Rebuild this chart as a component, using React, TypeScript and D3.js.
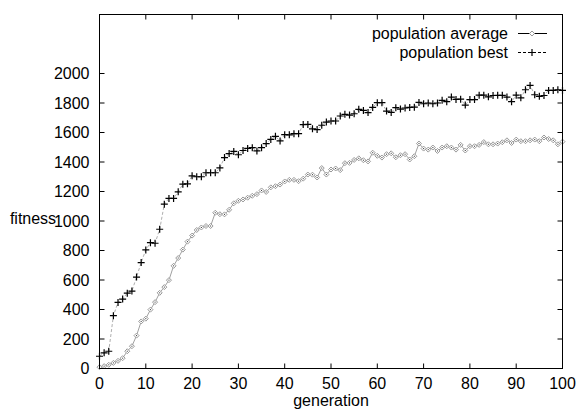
import React from 'react'
import { scaleLinear, line, range } from 'd3'

const generations = range(0, 101)

const popAverage = [
  9, 16, 25, 38, 52, 70, 117, 151, 223, 319,
  338, 399, 450, 513, 552, 599, 696, 749, 806, 860,
  901, 939, 956, 966, 966, 1056, 1046, 1045, 1076, 1120,
  1137, 1146, 1158, 1171, 1182, 1207, 1197, 1228, 1236, 1247,
  1268, 1279, 1279, 1270, 1287, 1315, 1314, 1295, 1359, 1315,
  1349, 1356, 1345, 1392, 1394, 1414, 1425, 1412, 1404, 1463,
  1442, 1430, 1453, 1459, 1432, 1446, 1453, 1417, 1439, 1525,
  1491, 1484, 1498, 1475, 1498, 1507, 1498, 1484, 1516, 1478,
  1507, 1507, 1516, 1535, 1520, 1520, 1525, 1534, 1547, 1529,
  1552, 1541, 1541, 1547, 1552, 1541, 1566, 1556, 1547, 1520, 1538,
]

const popBest = [
  83, 106, 117, 358, 448, 471, 511, 525, 620, 718,
  804, 853, 849, 944, 1114, 1153, 1153, 1198, 1250, 1252,
  1306, 1300, 1300, 1327, 1327, 1327, 1360, 1430, 1457, 1472,
  1449, 1478, 1492, 1497, 1475, 1497, 1525, 1553, 1574, 1543,
  1585, 1584, 1592, 1592, 1654, 1655, 1625, 1620, 1649, 1671,
  1678, 1678, 1712, 1723, 1718, 1727, 1757, 1750, 1735, 1770,
  1802, 1802, 1745, 1736, 1768, 1759, 1766, 1770, 1772, 1804,
  1795, 1800, 1795, 1800, 1818, 1809, 1840, 1824, 1826, 1786,
  1823, 1823, 1853, 1853, 1842, 1851, 1852, 1852, 1840, 1809,
  1853, 1835, 1890, 1919, 1856, 1845, 1851, 1885, 1885, 1890, 1885,
]

const xTicks = range(0, 101, 10)
const yTicks = range(0, 2001, 200)

const width = 576
const height = 409
const margin = { top: 14.5, right: 13.5, bottom: 40.5, left: 99.5 }
const font = '"Liberation Sans", Arial, sans-serif'
const fs = 16

const App = () => {
  const x = scaleLinear().domain([0, 100]).range([margin.left, width - margin.right])
  const y = scaleLinear().domain([0, 2400]).range([height - margin.bottom, margin.top])

  const mk = line<number>().x((d, i) => x(generations[i])).y(d => y(d))

  const x0 = x(0), x1 = x(100), y0 = y(0), y1 = y(2400)
  const tick = 5

  return (
    <svg width={width} height={height} style={{ position: 'absolute', left: 0, top: 0 }} fontFamily={font}>
      <rect width={width} height={height} fill="white" />

      {/* data */}
      <path d={mk(popBest) || ''} fill="none" stroke="#999" strokeWidth={0.8} strokeDasharray="3,2" />
      <path d={mk(popAverage) || ''} fill="none" stroke="#888" strokeWidth={0.8} />
      {popAverage.map((v, i) => (
        <path key={'a' + i}
          d={`M${x(generations[i])},${y(v) - 2.5}l2.5,2.5l-2.5,2.5l-2.5,-2.5z`}
          fill="white" stroke="#999" strokeWidth={1} />
      ))}
      {popAverage.map((v, i) => (
        <rect key={'c' + i} x={x(generations[i]) - 0.5} y={y(v) - 0.5} width={1} height={1} fill="#333" />
      ))}
      {popBest.map((v, i) => (
        <path key={'b' + i}
          d={`M${x(generations[i]) - 3.5},${y(v)}h7M${x(generations[i])},${y(v) - 3.5}v7`}
          stroke="#000" strokeWidth={1.2} />
      ))}

      {/* frame */}
      <rect x={x0} y={y1} width={x1 - x0} height={y0 - y1} fill="none" stroke="#000" strokeWidth={1} />
      {yTicks.map(t => (
        <g key={'y' + t}>
          <line x1={x0} x2={x0 + tick} y1={y(t)} y2={y(t)} stroke="#000" />
          <line x1={x1} x2={x1 - tick} y1={y(t)} y2={y(t)} stroke="#000" />
          <text x={x0 - 10} y={y(t)} dy="0.36em" textAnchor="end" fontSize={fs} fill="#000">{t}</text>
        </g>
      ))}
      {xTicks.map(t => (
        <g key={'x' + t}>
          <line x1={x(t)} x2={x(t)} y1={y0} y2={y0 - tick} stroke="#000" />
          <line x1={x(t)} x2={x(t)} y1={y1} y2={y1 + tick} stroke="#000" />
          <text x={x(t)} y={y0 + 20.5} textAnchor="middle" fontSize={fs} fill="#000">{t}</text>
        </g>
      ))}

      <text x={(x0 + x1) / 2} y={y0 + 37} textAnchor="middle" fontSize={fs} fill="#000">generation</text>
      <text x={33} y={224} textAnchor="middle" fontSize={fs} fill="#000">fitness</text>

      {/* legend */}
      <g fontSize={fs} fill="#000">
        <text x={508} y={39} textAnchor="end">population average</text>
        <line x1={518} x2={547} y1={33.5} y2={33.5} stroke="#000" />
        <path d="M532,31l2.5,2.5l-2.5,2.5l-2.5,-2.5z" fill="white" stroke="#999" />
        <text x={508} y={58} textAnchor="end">population best</text>
        <line x1={518} x2={547} y1={52.5} y2={52.5} stroke="#000" strokeDasharray="3,2" />
        <path d="M528.5,52.5h7M532,49v7" stroke="#000" strokeWidth={1.2} />
      </g>
    </svg>
  )
}

export default App
